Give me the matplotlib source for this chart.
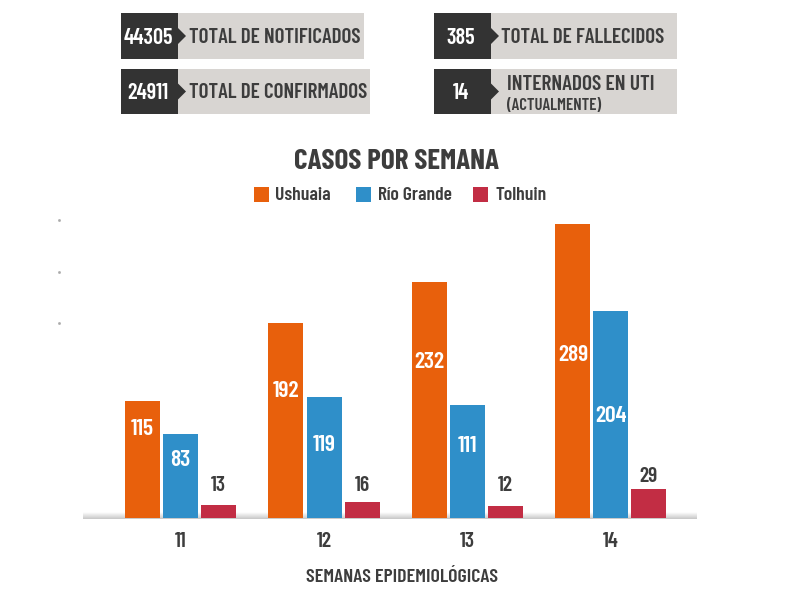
import matplotlib
matplotlib.use("Agg")
import matplotlib.pyplot as plt
from matplotlib.patches import Rectangle, Polygon
import numpy as np

plt.rcParams["font.family"] = ["Barlow Condensed", "Roboto Condensed", "Liberation Sans", "DejaVu Sans"]

semanas = ["11", "12", "13", "14"]
ushuaia = [115, 192, 232, 289]
rio_grande = [83, 119, 111, 204]
tolhuin = [13, 16, 12, 29]
stat_values = ["44305", "24911", "385", "14"]
stat_labels = ["TOTAL DE NOTIFICADOS", "TOTAL DE CONFIRMADOS", "TOTAL DE FALLECIDOS", "INTERNADOS EN UTI"]

# heights the labels sit at, they are not centred in the original
ushuaia_label_y = [88, 125, 153, 160]
rio_label_y = [57, 72, 71, 100]
tolhuin_label_y = [32, 32, 32, 41]

DARK = "#333333"
TEXT = "#3d3d3d"
GREY = "#d8d5d2"
ORANGE = "#e8600c"
BLUE = "#2f8fc9"
RED = "#c22d44"

W, H = 800, 600
fig = plt.figure(figsize=(8, 6), dpi=100, facecolor="white")

# page layer in pixel coordinates
page = fig.add_axes([0, 0, 1, 1], zorder=0)
page.axis("off")


def stat_box(x0, x1, y0, y1, value):
    page.add_patch(Rectangle((x0, y0), x1 - x0, y1 - y0, fc=GREY, ec="none"))
    page.add_patch(Rectangle((x0, y0), 57, y1 - y0, fc=DARK, ec="none"))
    ym = (y0 + y1) / 2
    page.add_patch(Polygon([(x0 + 57, ym - 8), (x0 + 65, ym), (x0 + 57, ym + 8)], fc=DARK, ec="none"))
    page.text(x0 + 27, ym + 1.5, value, color="white", ha="center", va="center", fontsize=16, fontweight="semibold")


stat_box(121, 364, 13, 59, stat_values[0])
stat_box(121, 370, 69, 114, stat_values[1])
stat_box(434, 677, 13, 59, stat_values[2])
stat_box(434, 677, 69, 114, stat_values[3])

page.text(189, 37.5, stat_labels[0], color=TEXT, va="center", fontsize=15.2, fontweight="semibold")
page.text(189, 93, stat_labels[1], color=TEXT, va="center", fontsize=15.2, fontweight="semibold")
page.text(501, 37.5, stat_labels[2], color=TEXT, va="center", fontsize=15.2, fontweight="semibold")
page.text(507, 85, stat_labels[3], color=TEXT, va="center", fontsize=15.4, fontweight="semibold")
page.text(507, 105.5, "(ACTUALMENTE)", color=TEXT, va="center", fontsize=12, fontweight="semibold")

page.text(397, 161.5, "CASOS POR SEMANA", color=TEXT, ha="center", va="center", fontsize=21, fontweight="bold")

# legend drawn by hand so the swatches sit where they do in the original
for sx, tx, col, name in [(254, 275, ORANGE, "Ushuaia"), (356, 378, BLUE, "Río Grande"), (473, 495, RED, "Tolhuin")]:
    page.add_patch(Rectangle((sx, 187), 15, 15, fc=col, ec="none"))
    page.text(tx, 195.5, name, color=TEXT, va="center", fontsize=14, fontweight="semibold")

# soft shadow under the bars
band = np.linspace(0, 1, 20).reshape(-1, 1)
cmap = matplotlib.colors.LinearSegmentedColormap.from_list("s", ["#ffffff", "#c8c8c8"])
page.imshow(band, extent=(83, 697, 519, 512), cmap=cmap, aspect="auto", zorder=1)
page.set_xlim(0, W)
page.set_ylim(H, 0)

for y in [220, 272, 323]:
    page.plot([59], [y], marker="s", ms=0.9, color="#aaaaaa")

page.text(401.5, 578, "SEMANAS EPIDEMIOLÓGICAS", color=TEXT, ha="center", va="center", fontsize=14.3, fontweight="semibold")

# bars
ax = fig.add_axes([83 / W, (H - 518) / H, (697 - 83) / W, 308 / H], zorder=2)
ax.patch.set_alpha(0)
ax.set_xlim(-0.68, 3.60)
ax.set_ylim(0, 303)
for s in ax.spines.values():
    s.set_visible(False)

x = np.arange(len(semanas))
width = 0.244
step = 0.265
ax.bar(x - step, ushuaia, width, color=ORANGE)
ax.bar(x, rio_grande, width, color=BLUE)
ax.bar(x + step, tolhuin, width, color=RED)

for i in range(len(semanas)):
    ax.text(x[i] - step, ushuaia_label_y[i], str(ushuaia[i]), color="white", ha="center", va="center", fontsize=17, fontweight="semibold")
    ax.text(x[i], rio_label_y[i], str(rio_grande[i]), color="white", ha="center", va="center", fontsize=17, fontweight="semibold")
    ax.text(x[i] + step, tolhuin_label_y[i], str(tolhuin[i]), color=TEXT, ha="center", va="center", fontsize=15.5, fontweight="semibold")

ax.set_xticks(x, semanas)
ax.set_yticks([])
ax.tick_params(axis="x", length=0, pad=10, labelsize=15.5, labelcolor=TEXT)
for lab in ax.get_xticklabels():
    lab.set_fontweight("semibold")

fig.savefig("out.png", dpi=100)
